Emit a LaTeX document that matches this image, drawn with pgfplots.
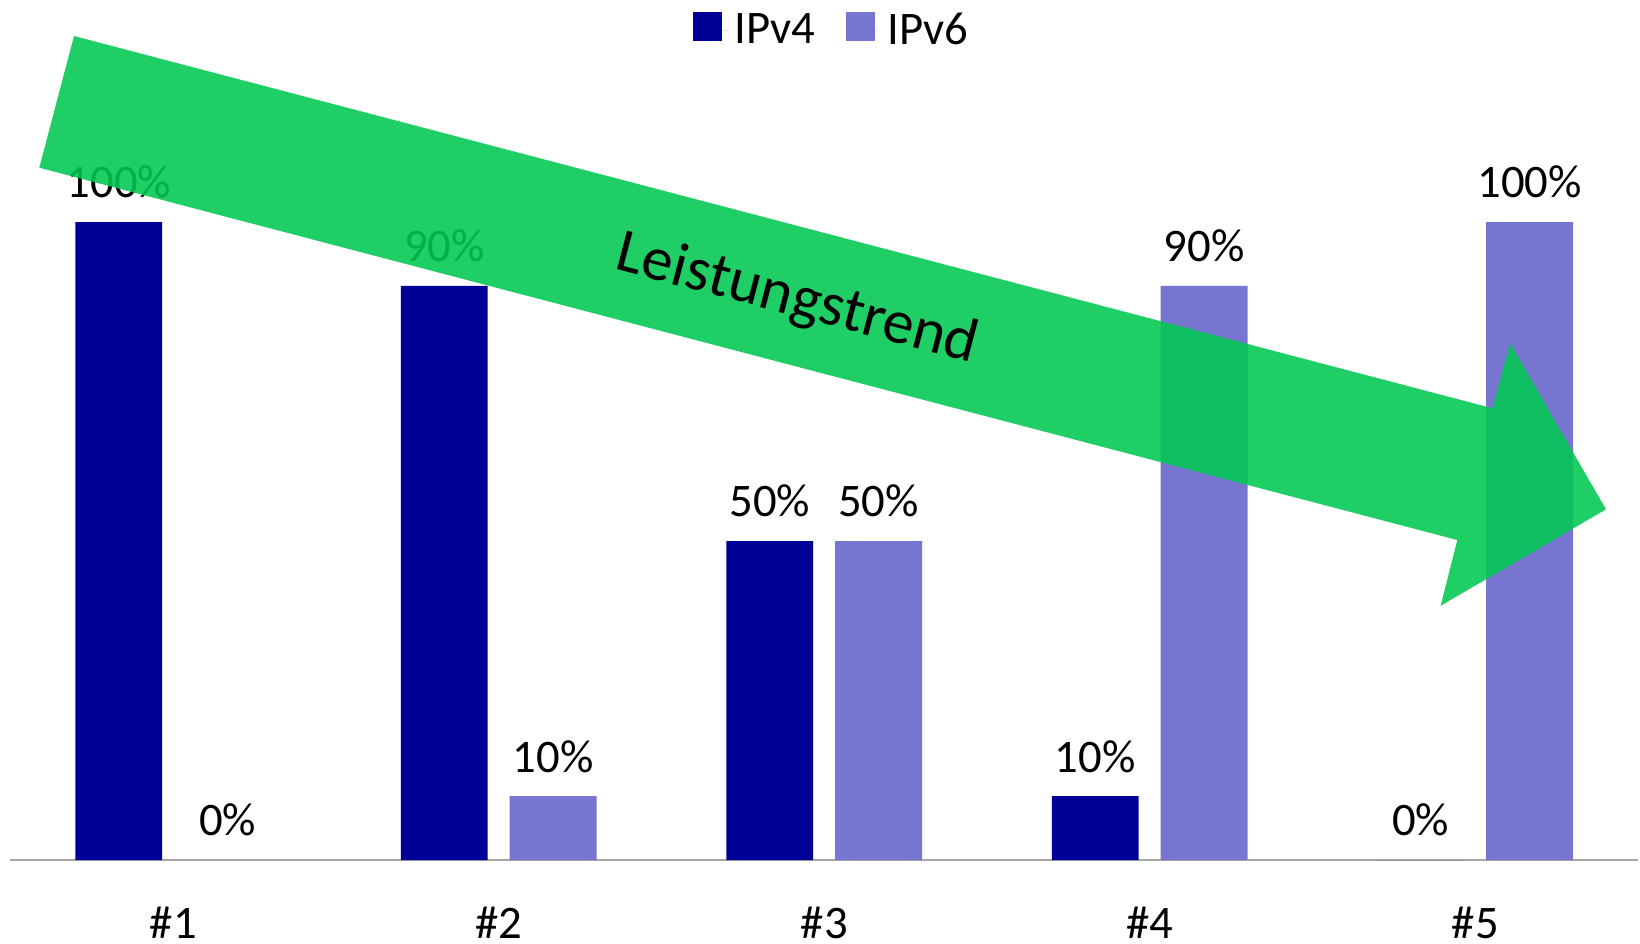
\documentclass[border=0pt]{standalone}
\usepackage{fontspec}
\setmainfont{Carlito}
\usepackage{pgfplots}
\pgfplotsset{compat=1.18}

\definecolor{ipvfour}{RGB}{0,0,153}
\definecolor{ipvsix}{RGB}{118,118,208}
\definecolor{trend}{RGB}{0,200,81}
\definecolor{baseline}{RGB}{166,166,166}

\newcommand{\labelfont}{\fontsize{14}{17}\selectfont}

\begin{document}
\begin{tikzpicture}
\begin{axis}[
  at={(3.15pt,-258pt)}, anchor=south west,
  scale only axis, width=488.25pt, height=258pt,
  ybar, bar width=26.04pt,
  xmin=-0.5, xmax=4.5, ymin=0, ymax=134.8,
  xtick={0,...,4}, xticklabels={\#1,\#2,\#3,\#4,\#5},
  ytick=\empty,
  axis x line*=bottom, axis y line=none,
  x axis line style={draw=baseline, line width=0.6pt},
  major tick length=0pt,
  xticklabel style={anchor=base, inner sep=0pt, yshift=-23.4pt, font=\labelfont},
  /pgf/number format/assume math mode=true,
  nodes near coords={\pgfmathprintnumber{\pgfplotspointmeta}\%},
  nodes near coords style={text=black, font=\labelfont, inner sep=0pt, yshift=6.9pt},
  legend columns=2,
  legend style={at={(0.506,1)}, anchor=north, yshift=-1.6pt, draw=none, fill=none,
    font=\labelfont, inner sep=0pt,
    /tikz/every even column/.append style={column sep=7.4pt}},
  legend image code/.code={%
    \fill[#1] (0pt,-2.9pt) rectangle (8.5pt,5.7pt);
    \path (8.5pt,0pt) -- (10.3pt,0pt);},
]
\addplot[fill=ipvfour, draw=none, bar shift=-16.32pt] coordinates {
(0,100) (1,90) (2,50) (3,10) (4,0)
};
\addlegendentry{IPv4}
\addplot[fill=ipvsix, draw=none, bar shift=16.32pt] coordinates {
(0,0) (1,10) (2,50) (3,90) (4,100)
};
\addlegendentry{IPv6}
\end{axis}

\begin{scope}[x=0.3pt,y=-0.3pt]
% trend arrow, pixel coordinates of the reference
\fill[trend, fill opacity=0.88]
  (74,36) -- (1492.7,408.3) -- (1510,343.3) -- (1606,509.3)
  -- (1440.7,605.7) -- (1457.3,540) -- (39.3,167.7) -- cycle;
\node[rotate=-14.7, font=\fontsize{18.6}{22}\selectfont] at (797,300) {Leistungstrend};
\pgfresetboundingbox
\path[use as bounding box] (0,0) rectangle (1640,943);
\end{scope}
\end{tikzpicture}
\end{document}
